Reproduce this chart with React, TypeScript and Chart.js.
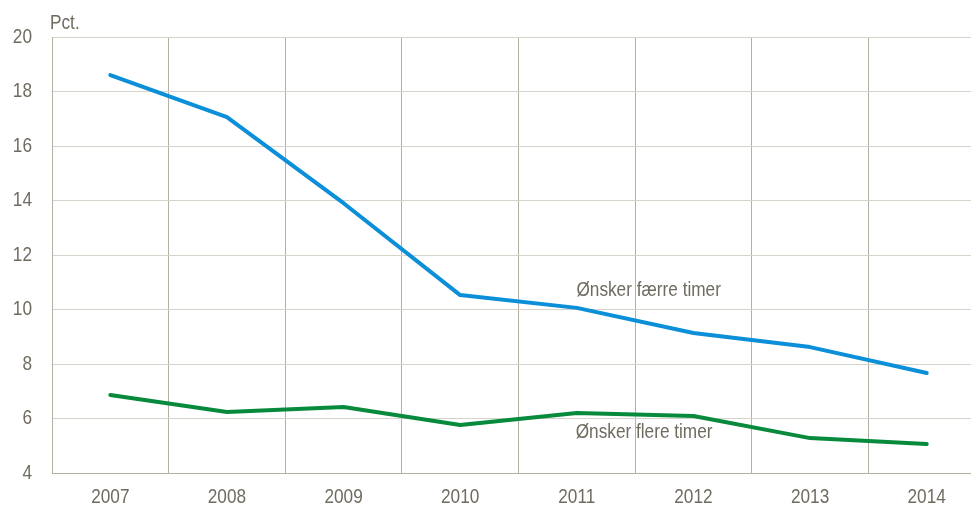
import React, { useEffect, useRef } from "react";
import { Chart, registerables } from "chart.js";

Chart.register(...registerables);

const years = ["2007", "2008", "2009", "2010", "2011", "2012", "2013", "2014"];
const faerreTimer = [18.6, 17.06, 13.9, 10.53, 10.06, 9.14, 8.62, 7.67];
const flereTimer = [6.86, 6.24, 6.42, 5.76, 6.2, 6.09, 5.28, 5.06];
const yTicks = [4, 6, 8, 10, 12, 14, 16, 18, 20];
const unitLabel = "Pct.";
const seriesLabels = [
  { text: "Ønsker færre timer", x: 4.616, y: 10.72 },
  { text: "Ønsker flere timer", x: 4.577, y: 5.5 },
];

const FONT = "'Liberation Sans', Arial, sans-serif";
const TEXT = "#6f6b5f";
const SQUEEZE = 0.82;

function narrowText(ctx: CanvasRenderingContext2D, text: string, x: number, y: number, align: CanvasTextAlign) {
  ctx.save();
  ctx.translate(x, y);
  ctx.scale(SQUEEZE, 1);
  ctx.textAlign = align;
  ctx.fillText(text, 0, 0);
  ctx.restore();
}

export default function App() {
  const ref = useRef<HTMLCanvasElement>(null);
  useEffect(() => {
    const labelsPlugin = {
      id: "labelsPlugin",
      afterDraw(chart: any) {
        const ctx = chart.ctx as CanvasRenderingContext2D;
        const xs = chart.scales.x;
        const ys = chart.scales.y;
        const area = chart.chartArea;
        ctx.save();
        ctx.fillStyle = TEXT;
        ctx.font = `21px ${FONT}`;
        ctx.textBaseline = "middle";
        // x tick labels
        xs.ticks.forEach((t: any, i: number) => {
          narrowText(ctx, xs.getLabelForValue(t.value), xs.getPixelForTick(i), area.bottom + 24, "center");
        });
        // y tick labels
        ys.ticks.forEach((t: any) => {
          narrowText(ctx, String(t.value), area.left - 20, ys.getPixelForValue(t.value), "right");
        });
        for (const l of seriesLabels) {
          narrowText(ctx, l.text, xs.getPixelForValue(l.x), ys.getPixelForValue(l.y), "center");
        }
        narrowText(ctx, unitLabel, area.left - 2, area.top - 13.5, "left");
        ctx.restore();
      },
    };
    const chart = new Chart(ref.current!, {
      type: "line",
      data: {
        labels: years,
        datasets: [
          {
            data: faerreTimer,
            borderColor: "#0b8fd8",
            borderWidth: 4,
            pointRadius: 0,
            tension: 0,
            borderCapStyle: "round",
            borderJoinStyle: "round",
          },
          {
            data: flereTimer,
            borderColor: "#078a3c",
            borderWidth: 4,
            pointRadius: 0,
            tension: 0,
            borderCapStyle: "round",
            borderJoinStyle: "round",
          },
        ],
      },
      options: {
        animation: false,
        responsive: false,
        maintainAspectRatio: false,
        layout: { padding: { top: 37, left: 0, right: 0, bottom: 0 } },
        plugins: { legend: { display: false }, tooltip: { enabled: false } },
        scales: {
          x: {
            offset: true,
            grid: { display: true, offset: true, color: "#b3afa3", lineWidth: 1, drawTicks: false },
            border: { display: true, color: "#b3afa3", width: 1 },
            ticks: { display: false },
            afterFit: (s: any) => {
              s.height = 33;
            },
          },
          y: {
            min: 4,
            max: 20,
            afterBuildTicks: (s: any) => {
              s.ticks = yTicks.map((v) => ({ value: v }));
            },
            grid: { color: "#d6d3ca", lineWidth: 1, drawTicks: false },
            border: { display: true, color: "#b3afa3", width: 1 },
            ticks: { display: false },
            afterFit: (s: any) => {
              s.width = 52;
            },
          },
        },
      },
      plugins: [labelsPlugin],
    } as any);
    return () => chart.destroy();
  }, []);
  return (
    <div style={{ position: "fixed", left: 0, top: 0, width: 971, height: 506, overflow: "hidden", background: "#fff" }}>
      <canvas ref={ref} width={985} height={506} style={{ display: "block", width: 985, height: 506 }} />
    </div>
  );
}
